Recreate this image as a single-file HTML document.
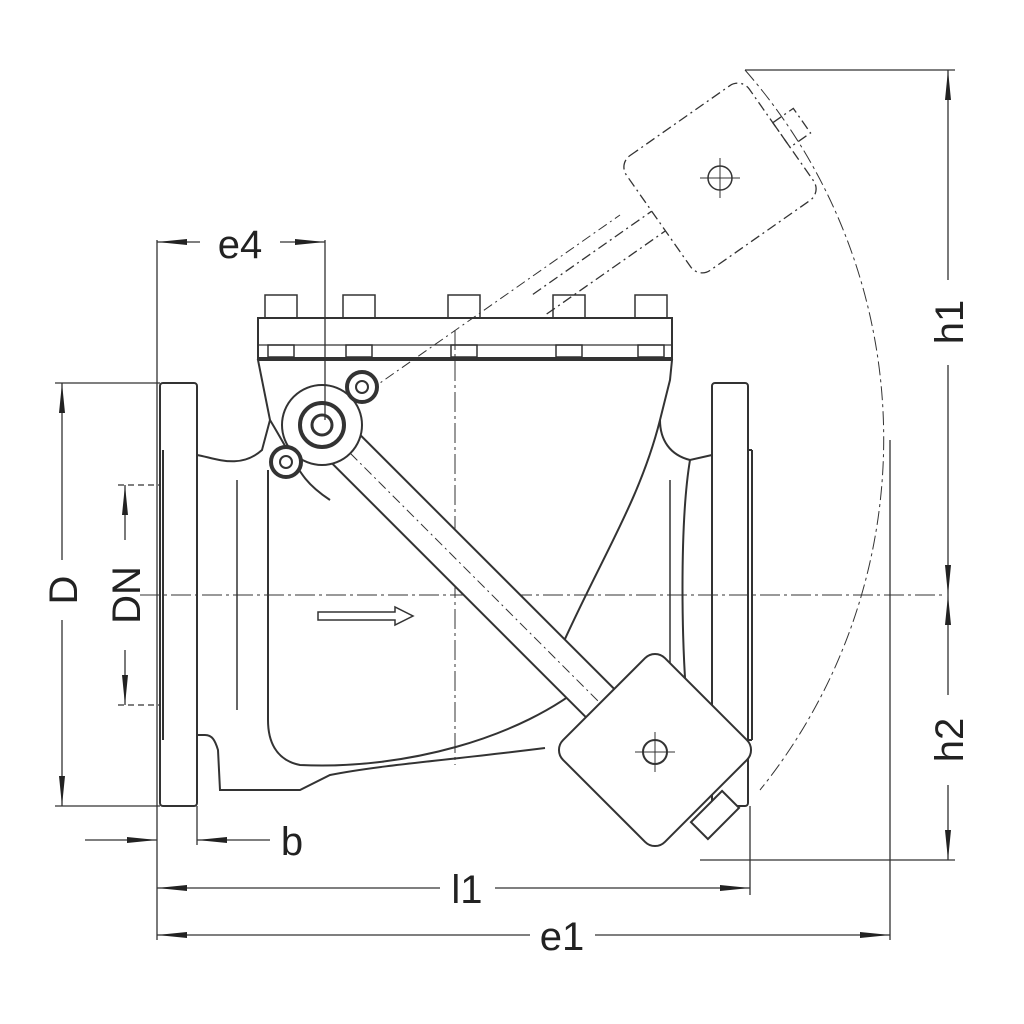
<!DOCTYPE html>
<html><head><meta charset="utf-8"><style>
html,body{margin:0;padding:0;background:#fff;width:1024px;height:1024px;overflow:hidden}
svg{display:block}
text{font-family:"Liberation Sans",sans-serif;font-size:40px;fill:#222}
</style></head><body>
<svg width="1024" height="1024" viewBox="0 0 1024 1024" xmlns="http://www.w3.org/2000/svg">
<defs>
<marker id="a" viewBox="0 0 10 10" refX="10" refY="5" markerWidth="10" markerHeight="8" orient="auto-start-reverse" markerUnits="userSpaceOnUse"><path d="M0,1 L10,5 L0,9 Z" fill="#222"/></marker>
<marker id="b" viewBox="0 0 30 10" refX="30" refY="5" markerWidth="30" markerHeight="10" orient="auto-start-reverse" markerUnits="userSpaceOnUse"><path d="M0,2 L30,5 L0,8 Z" fill="#222"/></marker>
</defs>
<g fill="none" stroke="#333" stroke-width="2">
<!-- centerlines -->
<line x1="140" y1="595" x2="945" y2="595" stroke-width="1" stroke-dasharray="20,4,3,4"/>
<line x1="455" y1="330" x2="455" y2="765" stroke-width="1" stroke-dasharray="20,4,3,4"/>
<!-- swing arc -->
<path d="M745,70 A560,560 0 0 1 760,790" stroke-width="1" stroke-dasharray="14,4,3,4"/>
<!-- dashed upper weight -->
<g transform="translate(720,178) rotate(-35)" stroke-width="1.3" stroke-dasharray="10,4,2,4">
<rect x="-75" y="-70" width="150" height="140" rx="14"/>
<line x1="-220" y1="-12" x2="-75" y2="-12"/><line x1="-220" y1="12" x2="-75" y2="12"/>
<rect x="75" y="-15" width="25" height="30"/>
</g>
<circle cx="720" cy="178" r="12" stroke-width="1.5"/>
<line x1="700" y1="178" x2="740" y2="178" stroke-width="1"/><line x1="720" y1="158" x2="720" y2="198" stroke-width="1"/>
<line x1="320" y1="425" x2="620" y2="215" stroke-width="1" stroke-dasharray="10,4,2,4"/>
<!-- flanges -->
<rect x="160" y="383" width="37" height="423" rx="3"/>
<line x1="163" y1="450" x2="163" y2="740"/>
<rect x="712" y="383" width="36" height="423" rx="3"/>
<line x1="748" y1="450" x2="752" y2="450"/><line x1="752" y1="450" x2="752" y2="740"/><line x1="748" y1="740" x2="752" y2="740"/>
<!-- body -->
<path d="M197,455 C215,458 240,470 262,450 L270,420 L262,380 L258,360 L672,360 L670,380 L660,420 C660,440 670,455 690,460 L712,455"/>
<path d="M197,735 L205,735 C212,735 215,740 218,750 L220,790 L300,790 L330,775 C380,765 450,760 545,748"/>
<path d="M712,735 L700,735"/>
<path d="M268,470 L268,720 C268,740 275,760 300,765 C400,770 520,740 590,680"/>
<path d="M660,420 C640,500 600,560 560,650"/>
<path d="M690,460 C680,520 680,650 690,735"/>
<path d="M270,420 C300,470 300,480 330,500"/>
<line x1="237" y1="480" x2="237" y2="710" stroke-width="1.5"/>
<line x1="670" y1="480" x2="670" y2="710" stroke-width="1.5"/>
<!-- bonnet -->
<rect x="258" y="318" width="414" height="40"/>
<line x1="258" y1="345" x2="672" y2="345" stroke-width="1.2"/>
<g stroke-width="1.5">
<rect x="265" y="295" width="32" height="23"/><rect x="343" y="295" width="32" height="23"/><rect x="448" y="295" width="32" height="23"/><rect x="553" y="295" width="32" height="23"/><rect x="635" y="295" width="32" height="23"/>
<rect x="268" y="345" width="26" height="12"/><rect x="346" y="345" width="26" height="12"/><rect x="451" y="345" width="26" height="12"/><rect x="556" y="345" width="26" height="12"/><rect x="638" y="345" width="26" height="12"/>
</g>
<!-- lever arm -->
<g transform="translate(322,425) rotate(45)">
<rect x="-10" y="-20" width="450" height="40" fill="#fff"/>
<line x1="0" y1="0" x2="440" y2="0" stroke-width="1" stroke-dasharray="10,4,2,4"/>
</g>
<!-- hub -->
<circle cx="322" cy="425" r="40" fill="#fff"/>
<circle cx="322" cy="425" r="22" fill="#fff" stroke-width="4"/>
<circle cx="322" cy="425" r="10" stroke-width="3"/>
<circle cx="362" cy="387" r="15" fill="#fff" stroke-width="4"/><circle cx="362" cy="387" r="6" stroke-width="2"/>
<circle cx="286" cy="462" r="15" fill="#fff" stroke-width="4"/><circle cx="286" cy="462" r="6" stroke-width="2"/>
<!-- weight -->
<g transform="translate(655,750) rotate(-45)">
<rect x="-72" y="-72" width="144" height="144" rx="14" fill="#fff"/>
</g>
<g transform="translate(715,815) rotate(-45)"><rect x="-22" y="-12" width="44" height="24" fill="#fff"/></g>
<circle cx="655" cy="752" r="12"/>
<line x1="635" y1="752" x2="675" y2="752" stroke-width="1"/><line x1="655" y1="732" x2="655" y2="772" stroke-width="1"/>
<!-- flow arrow -->
<path d="M318,612 L395,612 L395,607 L413,616 L395,625 L395,620 L318,620 Z" stroke-width="1.5"/>
</g>
<!-- dimension lines -->
<g stroke="#333" stroke-width="1.3" fill="none">
<line x1="157" y1="240" x2="157" y2="940"/>
<line x1="325" y1="240" x2="325" y2="420"/>
<line x1="890" y1="440" x2="890" y2="940"/>
<line x1="750" y1="806" x2="750" y2="895"/>
<line x1="745" y1="70" x2="955" y2="70"/>
<line x1="700" y1="860" x2="955" y2="860"/>
<line x1="55" y1="383" x2="160" y2="383"/>
<line x1="55" y1="806" x2="160" y2="806"/>
<line x1="118" y1="485" x2="160" y2="485" stroke-dasharray="6,4"/>
<line x1="118" y1="705" x2="160" y2="705" stroke-dasharray="6,4"/>
<line x1="197" y1="806" x2="197" y2="845"/>
<!-- e4 -->
<line x1="157" y1="242" x2="200" y2="242" marker-start="url(#b)"/>
<line x1="280" y1="242" x2="325" y2="242" marker-end="url(#b)"/>
<!-- h1/h2 -->
<line x1="948" y1="70" x2="948" y2="280" marker-start="url(#b)"/>
<line x1="948" y1="365" x2="948" y2="595" marker-end="url(#b)"/>
<line x1="948" y1="595" x2="948" y2="695" marker-start="url(#b)"/>
<line x1="948" y1="785" x2="948" y2="860" marker-end="url(#b)"/>
<!-- D -->
<line x1="62" y1="383" x2="62" y2="560" marker-start="url(#b)"/>
<line x1="62" y1="620" x2="62" y2="806" marker-end="url(#b)"/>
<!-- DN -->
<line x1="125" y1="485" x2="125" y2="540" marker-start="url(#b)"/>
<line x1="125" y1="650" x2="125" y2="705" marker-end="url(#b)"/>
<!-- b -->
<line x1="85" y1="840" x2="157" y2="840" marker-end="url(#b)"/>
<line x1="197" y1="840" x2="270" y2="840" marker-start="url(#b)"/>
<!-- l1 -->
<line x1="157" y1="888" x2="440" y2="888" marker-start="url(#b)"/>
<line x1="495" y1="888" x2="750" y2="888" marker-end="url(#b)"/>
<!-- e1 -->
<line x1="157" y1="935" x2="530" y2="935" marker-start="url(#b)"/>
<line x1="595" y1="935" x2="890" y2="935" marker-end="url(#b)"/>
</g>
<text x="240" y="258" text-anchor="middle">e4</text>
<text x="292" y="855" text-anchor="middle">b</text>
<text x="467" y="903" text-anchor="middle">l1</text>
<text x="562" y="950" text-anchor="middle">e1</text>
<text transform="translate(963,322) rotate(-90)" text-anchor="middle">h1</text>
<text transform="translate(963,740) rotate(-90)" text-anchor="middle">h2</text>
<text transform="translate(77,590) rotate(-90)" text-anchor="middle">D</text>
<text transform="translate(140,595) rotate(-90)" text-anchor="middle">DN</text>
</svg>
</body></html>
